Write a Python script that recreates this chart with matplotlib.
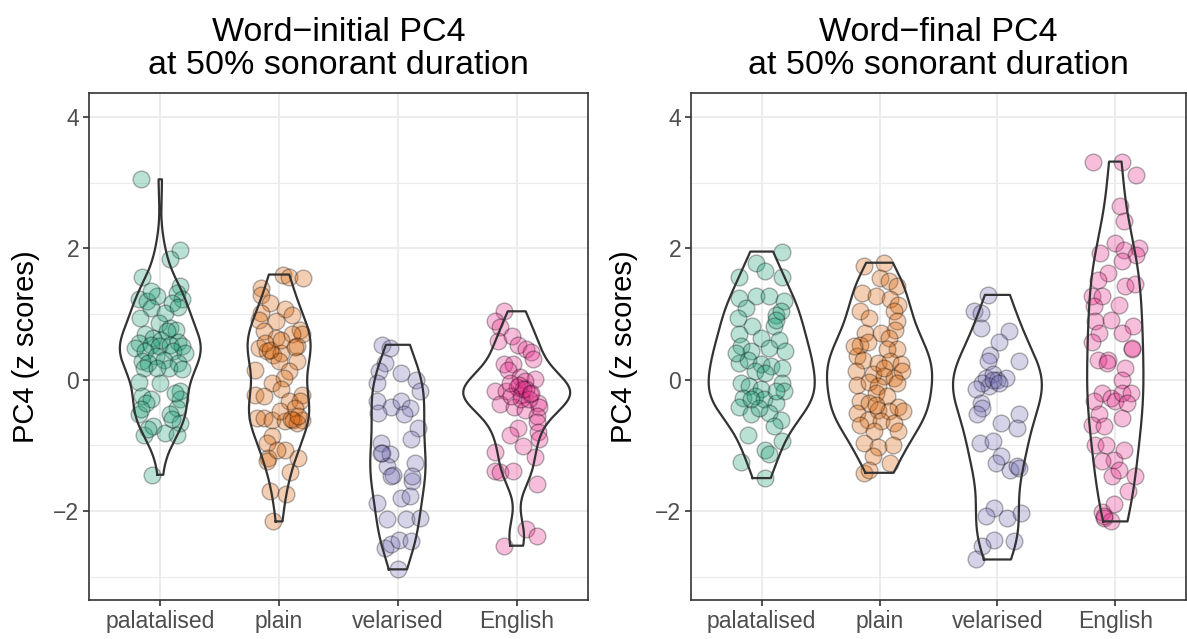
import numpy as np
import matplotlib
matplotlib.use("Agg")
from matplotlib import pyplot as plt

# categorias e cores (paleta Dark2)
categorias = ['palatalised', 'plain', 'velarised', 'English']
cores = ['#1B9E77', '#D95F02', '#7570B3', '#E7298A']
titulos = ['Word\u2212initial PC4\nat 50% sonorant duration',
           'Word\u2212final PC4\nat 50% sonorant duration']

# pontos: (valor PC4, deslocamento horizontal do jitter)
ini_palatalised = [(3.05, -0.16), (1.98, 0.17), (1.84, 0.08), (1.56, -0.15), (1.43, 0.17),
    (1.32, 0.14), (1.22, -0.18), (1.19, -0.11), (1.27, -0.03), (1.23, 0.18), (1.16, 0.10),
    (1.09, -0.08), (1.01, 0.04), (0.94, -0.17), (0.86, -0.01), (0.79, 0.08), (0.76, 0.13),
    (0.74, 0.06), (0.69, -0.13), (0.63, -0.06), (0.61, 0.01), (0.58, 0.15), (0.56, -0.18),
    (0.53, -0.08), (0.51, -0.01), (0.53, 0.08), (0.48, -0.21), (0.51, 0.18), (0.43, -0.13),
    (0.43, 0.11), (0.41, 0.21), (0.36, -0.04), (0.28, -0.15), (0.30, 0.03), (0.25, -0.10),
    (0.25, 0.15), (0.18, 0.07), (0.18, -0.14), (0.18, -0.03), (0.16, 0.18), (-0.05, 0.0),
    (-0.03, -0.18), (-0.18, 0.17), (-0.25, -0.15), (-0.30, -0.08), (-0.30, 0.17),
    (-0.53, -0.18), (-0.43, 0.14), (-0.53, 0.08), (-0.66, 0.17), (-0.84, -0.14),
    (-0.71, -0.06), (-0.81, 0.04), (-0.84, 0.14), (-1.45, -0.07), (-0.35, -0.12),
    (-0.60, 0.10), (-0.75, -0.10), (-0.45, -0.16), (-0.20, 0.12), (1.35, -0.08), (1.10, 0.15)]
ini_plain = [(1.60, 0.03), (1.57, 0.08), (1.55, 0.20), (1.40, -0.15), (1.29, -0.15),
    (1.17, -0.08), (1.07, 0.05), (0.99, 0.11), (1.02, -0.15), (0.89, -0.03), (0.91, -0.17),
    (0.76, 0.18), (0.69, 0.19), (0.74, -0.13), (0.63, -0.03), (0.69, 0.11), (0.48, -0.17),
    (0.43, -0.10), (0.38, -0.05), (0.41, 0.02), (0.51, 0.15), (0.28, 0.0), (0.15, -0.20),
    (0.28, 0.15), (0.13, 0.08), (0.03, 0.04), (-0.05, -0.06), (-0.15, 0.02), (-0.23, -0.20),
    (-0.23, 0.19), (-0.25, -0.13), (-0.33, 0.08), (-0.33, 0.18), (-0.43, 0.13),
    (-0.58, -0.19), (-0.58, -0.13), (-0.61, -0.06), (-0.63, 0.05), (-0.61, 0.12),
    (-0.61, 0.19), (-0.66, 0.15), (-0.86, -0.06), (-0.96, -0.10), (-1.07, 0.05),
    (-1.19, -0.09), (-1.19, 0.16), (-1.40, 0.09), (-1.24, -0.10), (-1.70, -0.08),
    (-1.75, 0.06), (-2.16, -0.05), (-1.07, -0.02), (-0.48, 0.01), (0.55, -0.12),
    (0.45, -0.08), (0.60, 0.02), (0.50, 0.13), (-0.60, 0.10), (-0.55, 0.16)]
ini_velarised = [(0.53, -0.13), (0.48, -0.07), (0.25, -0.11), (0.13, -0.16), (-0.05, -0.18),
    (0.10, 0.03), (0.0, 0.15), (-0.18, 0.19), (-0.33, -0.18), (-0.41, -0.06), (-0.33, 0.03),
    (-0.43, 0.10), (-0.53, 0.05), (-0.51, -0.17), (-0.74, 0.17), (-0.91, 0.11),
    (-0.96, -0.14), (-1.12, -0.13), (-1.14, -0.07), (-1.32, -0.09), (-1.45, -0.04),
    (-1.47, -0.06), (-1.27, 0.14), (-1.55, 0.12), (-1.47, 0.12), (-1.80, 0.03),
    (-1.78, 0.10), (-1.88, -0.18), (-2.13, -0.09), (-2.13, 0.07), (-2.11, 0.19),
    (-2.56, -0.11), (-2.51, -0.06), (-2.44, 0.01), (-2.46, 0.11), (-2.89, 0.0), (-1.12, -0.14)]
ini_english = [(1.04, -0.11), (0.90, -0.18), (0.80, -0.14), (0.59, -0.16), (0.67, -0.04),
    (0.52, 0.01), (0.47, 0.08), (0.42, 0.12), (0.31, 0.14), (0.24, -0.11), (0.24, -0.03),
    (0.14, -0.07), (0.04, 0.03), (0.01, 0.15), (-0.02, 0.07), (-0.17, -0.18), (-0.17, -0.09),
    (-0.12, 0.0), (-0.24, 0.04), (-0.22, 0.11), (-0.35, 0.18), (-0.37, -0.14), (-0.42, -0.02),
    (-0.42, 0.19), (-0.47, 0.07), (-0.55, 0.17), (-0.65, 0.17), (-0.73, 0.01), (-0.85, -0.06),
    (-0.80, 0.18), (-1.01, 0.05), (-0.90, 0.19), (-1.11, -0.18), (-1.18, 0.15),
    (-1.39, -0.18), (-1.41, -0.14), (-1.39, -0.03), (-1.59, 0.17), (-2.27, 0.08),
    (-2.38, 0.17), (-2.53, -0.11), (-0.29, 0.04), (-0.14, 0.08), (-0.08, 0.02),
    (-0.15, 0.05), (-0.25, -0.05), (-0.30, 0.10), (-0.05, -0.06), (-0.20, 0.12)]

fin_palatalised = [(1.95, 0.17), (1.78, -0.05), (1.57, -0.19), (1.65, 0.03), (1.57, 0.17),
    (1.24, -0.19), (1.27, -0.05), (1.27, 0.06), (1.19, 0.19), (1.09, -0.13), (0.99, 0.12),
    (1.04, 0.16), (0.94, -0.20), (0.81, -0.08), (0.81, 0.10), (0.69, -0.19), (0.63, -0.01),
    (0.61, 0.15), (0.51, -0.18), (0.43, -0.09), (0.48, 0.06), (0.43, 0.20), (0.25, -0.19),
    (0.30, -0.12), (0.23, -0.01), (0.20, 0.08), (0.18, 0.17), (0.13, -0.06), (0.10, 0.03),
    (-0.05, -0.18), (-0.05, 0.17), (-0.10, -0.11), (-0.15, -0.01), (-0.18, 0.19),
    (-0.28, -0.16), (-0.25, -0.06), (-0.30, 0.02), (-0.36, 0.12), (-0.41, -0.19),
    (-0.53, -0.09), (-0.51, 0.06), (-0.61, 0.16), (-0.71, 0.10), (-0.84, -0.12),
    (-0.94, 0.17), (-1.07, 0.03), (-1.14, 0.06), (-1.26, -0.18), (-1.50, 0.03),
    (0.91, 0.12), (0.41, -0.22), (-0.18, 0.12), (-0.43, -0.02), (-0.30, -0.09)]
fin_plain = [(1.73, -0.13), (1.78, 0.04), (1.55, 0.0), (1.50, 0.08), (1.42, 0.15),
    (1.32, -0.15), (1.27, -0.03), (1.22, 0.09), (1.14, 0.16), (1.04, -0.17), (0.94, -0.09),
    (1.04, 0.12), (0.89, 0.15), (0.76, 0.13), (0.71, -0.12), (0.71, 0.01), (0.63, 0.08),
    (0.53, -0.17), (0.58, -0.10), (0.46, 0.15), (0.46, 0.06), (0.36, -0.19), (0.30, -0.14),
    (0.25, -0.01), (0.28, 0.09), (0.23, 0.18), (0.13, -0.20), (0.08, -0.06), (0.05, 0.04),
    (0.03, 0.12), (0.13, 0.19), (-0.08, -0.19), (-0.03, -0.09), (-0.10, -0.01),
    (-0.05, 0.15), (-0.20, -0.03), (-0.25, 0.06), (-0.33, -0.17), (-0.36, -0.09),
    (-0.41, 0.16), (-0.46, -0.01), (-0.51, -0.19), (-0.48, 0.08), (-0.48, 0.20),
    (-0.61, -0.10), (-0.63, 0.01), (-0.66, 0.12), (-0.69, -0.17), (-0.79, -0.05),
    (-0.79, 0.16), (-0.96, -0.13), (-1.02, -0.01), (-0.99, 0.11), (-1.17, -0.06),
    (-1.27, 0.09), (-1.42, -0.13), (-1.37, -0.09), (0.51, -0.22), (0.18, 0.04), (-0.38, -0.03)]
fin_velarised = [(1.29, -0.08), (1.04, -0.20), (1.02, -0.14), (0.79, -0.14), (0.74, 0.10),
    (0.58, 0.01), (0.38, -0.06), (0.28, -0.08), (0.28, 0.18), (0.03, -0.10), (0.08, -0.04),
    (0.0, 0.0), (0.03, 0.07), (-0.10, -0.07), (-0.05, -0.13), (-0.15, -0.18), (-0.36, -0.14),
    (-0.43, -0.13), (-0.53, -0.17), (-0.66, 0.03), (-0.53, 0.18), (-0.74, 0.17),
    (-0.96, -0.15), (-0.94, -0.04), (-1.17, 0.03), (-1.27, -0.01), (-1.37, 0.11),
    (-1.32, 0.17), (-1.35, 0.18), (-1.95, -0.03), (-2.08, -0.10), (-2.11, 0.08),
    (-2.03, 0.20), (-2.44, -0.03), (-2.46, 0.14), (-2.54, -0.13), (-2.74, -0.18),
    (0.0, -0.04), (-0.05, 0.01)]
fin_english = [(3.32, -0.19), (3.32, 0.06), (3.11, 0.18), (2.64, 0.04), (2.41, 0.07),
    (2.08, 0.0), (1.93, -0.13), (1.98, 0.07), (2.01, 0.20), (1.90, 0.18), (1.80, 0.06),
    (1.62, -0.06), (1.52, -0.15), (1.42, 0.08), (1.45, 0.17), (1.27, -0.20), (1.27, -0.11),
    (1.12, -0.18), (1.14, 0.03), (0.91, -0.04), (0.89, -0.17), (0.81, 0.15), (0.71, 0.06),
    (0.71, -0.14), (0.58, -0.20), (0.46, 0.14), (0.48, 0.14), (0.30, -0.15), (0.30, -0.06),
    (0.25, -0.07), (0.18, 0.08), (0.0, 0.06), (-0.20, -0.11), (-0.33, -0.18), (-0.28, -0.04),
    (-0.33, 0.0), (-0.20, 0.06), (-0.20, 0.13), (-0.36, 0.10), (-0.53, -0.14),
    (-0.69, -0.20), (-0.71, -0.10), (-0.58, 0.06), (-0.99, -0.17), (-0.99, -0.08),
    (-1.22, -0.01), (-1.07, 0.07), (-1.24, -0.11), (-1.47, -0.03), (-1.37, 0.03),
    (-1.47, 0.17), (-1.70, 0.11), (-2.01, -0.11), (-1.90, -0.01), (-2.11, -0.10),
    (-2.16, -0.04), (-2.08, -0.10)]

paineis = [[ini_palatalised, ini_plain, ini_velarised, ini_english],
           [fin_palatalised, fin_plain, fin_velarised, fin_english]]


def densidade(valores, grade):
    # kernel gaussiano com largura de banda nrd0 (como no R)
    n = len(valores)
    q75, q25 = np.percentile(valores, [75, 25])
    bw = 0.9 * min(np.std(valores, ddof=1), (q75 - q25) / 1.34) * n ** -0.2
    z = (grade[:, None] - valores[None, :]) / bw
    return np.exp(-0.5 * z ** 2).sum(axis=1) / (n * bw * np.sqrt(2 * np.pi))


plt.rcParams['font.family'] = ['Liberation Sans', 'DejaVu Sans']
fig = plt.figure(figsize=(11.87, 6.39), dpi=100)
posicoes = [[89 / 1187, 39 / 639, 499 / 1187, 507 / 639],
            [691 / 1187, 39 / 639, 495 / 1187, 507 / 639]]
rotulo_x = [-0.098, -0.107]

for painel, titulo, pos, rx in zip(paineis, titulos, posicoes, rotulo_x):
    ax = fig.add_axes(pos)
    # densidades de cada grupo (escala "area": todas relativas ao maximo do painel)
    curvas = []
    for grupo in painel:
        y = np.array([p[0] for p in grupo])
        grade = np.linspace(y.min(), y.max(), 512)
        curvas.append((grade, densidade(y, grade)))
    dmax = max(d.max() for _, d in curvas)

    for i, (grupo, cor, (grade, d)) in enumerate(zip(painel, cores, curvas)):
        x0 = i + 1
        y = np.array([p[0] for p in grupo])
        dx = np.array([p[1] for p in grupo])
        ax.scatter(x0 + dx, y, s=145, facecolor=cor, edgecolor='black',
                   linewidth=1.0, alpha=0.3, zorder=2)
        w = 0.45 * d / dmax
        vx = np.concatenate([x0 - w, (x0 + w)[::-1], [x0 - w[0]]])
        vy = np.concatenate([grade, grade[::-1], [grade[0]]])
        ax.plot(vx, vy, color='#333333', linewidth=1.6, zorder=3)

    ax.set_xlim(0.4, 4.6)
    ax.set_ylim(-3.357, 4.365)
    ax.set_xticks(range(1, 5))
    ax.set_xticklabels(categorias)
    ax.set_yticks([-2, 0, 2, 4])
    ax.set_yticklabels(['\u22122', '0', '2', '4'])
    ax.set_yticks([-3, -1, 1, 3], minor=True)
    ax.grid(which='major', color='#EBEBEB', linewidth=1.3, zorder=0)
    ax.grid(which='minor', axis='y', color='#EBEBEB', linewidth=0.8, zorder=0)
    ax.set_axisbelow(True)
    ax.tick_params(which='major', length=4, width=1.2, color='#333333',
                   labelcolor='#4D4D4D', labelsize=16.5, pad=3)
    ax.tick_params(which='minor', length=0)
    for s in ax.spines.values():
        s.set_color('#333333')
        s.set_linewidth(1.2)
    ax.set_ylabel('PC4 (z scores)', fontsize=21)
    ax.yaxis.set_label_coords(rx, 0.5)
    ax.set_title(titulo, fontsize=24.5, linespacing=1.05, pad=14)

plt.savefig('out.png', dpi=100)
